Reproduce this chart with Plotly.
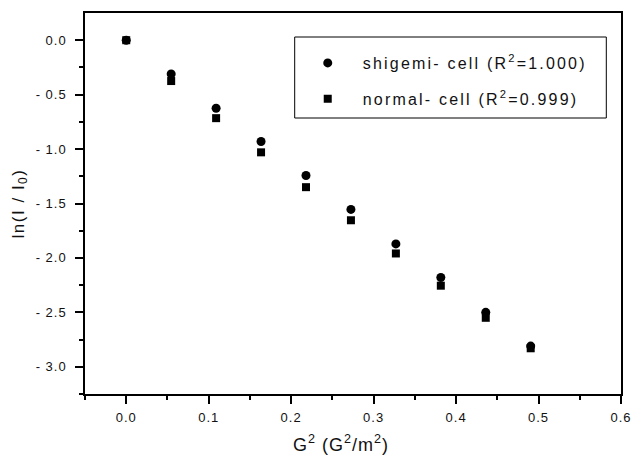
import plotly.graph_objects as go

g2 = [0.0, 0.0545, 0.109, 0.1635, 0.218, 0.2725, 0.327, 0.3815, 0.436, 0.4905]
shigemi = [0.0, -0.31, -0.625, -0.93, -1.243, -1.554, -1.871, -2.18, -2.50, -2.81]
normal = [0.0, -0.375, -0.716, -1.03, -1.35, -1.654, -1.959, -2.255, -2.55, -2.83]

xtick_vals = [0.0, 0.1, 0.2, 0.3, 0.4, 0.5, 0.6]
xtick_text = ["0.0", "0.1", "0.2", "0.3", "0.4", "0.5", "0.6"]
ytick_vals = [0.0, -0.5, -1.0, -1.5, -2.0, -2.5, -3.0]
ytick_text = ["0.0", "- 0.5", "- 1.0", "- 1.5", "- 2.0", "- 2.5", "- 3.0"]


def sp(text, px):
    return '<span style="letter-spacing:%spx">%s</span>' % (px, text)


fig = go.Figure()
fig.add_trace(go.Scatter(
    x=g2, y=shigemi, mode="markers", legendgroup="a",
    name=sp("shigemi- cell (R<sup>2</sup>=1.000)", 2.2),
    marker=dict(symbol="circle", size=9, color="black"),
))
fig.add_trace(go.Scatter(
    x=g2, y=normal, mode="markers", legendgroup="b",
    name=sp("normal- cell (R<sup>2</sup>=0.999)", 2.2),
    marker=dict(symbol="square", size=8, color="black"),
))

FAM = "Liberation Sans, Arial, sans-serif"
axis_font = dict(family=FAM, size=13, color="#111")

fig.update_layout(
    width=643, height=455,
    margin=dict(l=85, r=11, t=13, b=61),
    plot_bgcolor="white", paper_bgcolor="white",
    font=dict(family=FAM, color="#111"),
    showlegend=True,
    legend=dict(
        x=(297 - 85) / 547, y=(394 - 46) / 381, xanchor="left", yanchor="top",
        bgcolor="rgba(0,0,0,0)", borderwidth=0,
        font=dict(size=16, color="#111"), itemwidth=60, tracegroupgap=12,
    ),
    xaxis=dict(
        range=[-0.05, 0.6], tickvals=xtick_vals, ticktext=[sp(t, 1) for t in xtick_text],
        ticks="outside", ticklen=8, tickwidth=1.5, tickcolor="black", ticklabelstandoff=3,
        showline=True, linewidth=1.5, linecolor="black", mirror=True,
        showgrid=False, zeroline=False, tickfont=axis_font,
        minor=dict(tickvals=[-0.05, 0.05, 0.15, 0.25, 0.35, 0.45, 0.55], ticks="outside", ticklen=4, tickwidth=1.5, tickcolor="black"),
    ),
    yaxis=dict(
        range=[-3.25, 0.25], tickvals=ytick_vals, ticktext=[sp(t, 1) for t in ytick_text],
        ticks="outside", ticklen=8, tickwidth=1.5, tickcolor="black", ticklabelstandoff=6,
        showline=True, linewidth=1.5, linecolor="black", mirror=True,
        showgrid=False, zeroline=False, tickfont=axis_font,
        minor=dict(tickvals=[-0.25, -0.75, -1.25, -1.75, -2.25, -2.75, -3.25], ticks="outside", ticklen=4, tickwidth=1.5, tickcolor="black"),
        title=dict(text=sp("ln(I / I<sub>0</sub>)", 1.5), font=dict(size=17, color="#111"), standoff=7),
    ),
    shapes=[dict(type="rect", xref="paper", yref="paper",
                 x0=(299 - 85) / 547, x1=(617 - 85) / 547,
                 y0=(394 - 118) / 381, y1=(394 - 37) / 381,
                 line=dict(color="black", width=1), fillcolor="rgba(0,0,0,0)")],
    annotations=[dict(text=sp("G<sup>2</sup> (G<sup>2</sup>/m<sup>2</sup>)", 1), xref="paper", yref="paper",
                      x=(346 - 85) / 547, y=(394 - 443) / 381, xanchor="center", yanchor="middle",
                      showarrow=False, font=dict(size=18, color="#111"))],
)

fig.write_html("out.html", config={"displayModeBar": False},
               post_script="document.body.style.margin='0px';document.body.style.padding='0px';")
